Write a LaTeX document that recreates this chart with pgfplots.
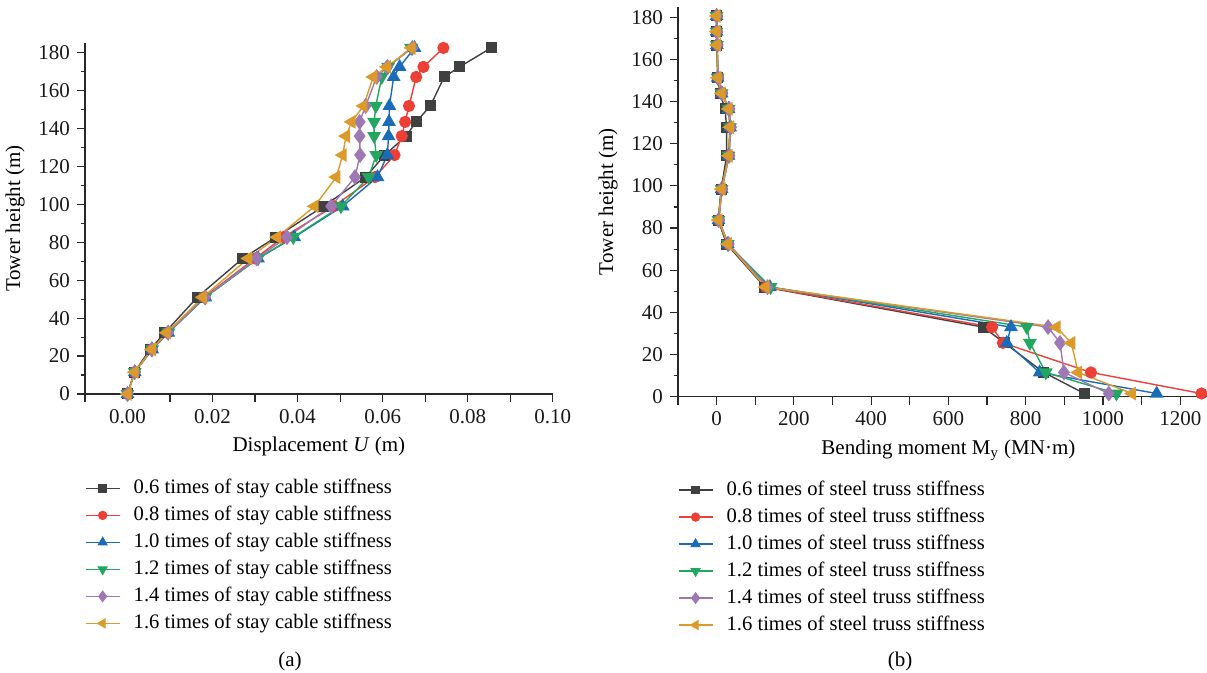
\documentclass[border=0pt]{standalone}
\usepackage{fontspec}
\setmainfont{Liberation Serif}
\usepackage{pgfplots}
\pgfplotsset{compat=1.18}

\definecolor{cK}{RGB}{64,64,64}
\definecolor{cR}{RGB}{236,64,55}
\definecolor{cB}{RGB}{26,108,184}
\definecolor{cG}{RGB}{34,166,96}
\definecolor{cP}{RGB}{157,120,180}
\definecolor{cO}{RGB}{219,154,42}
\definecolor{axc}{RGB}{40,40,40}

\pgfplotsset{
  myaxis/.style={
    scale only axis, axis lines=left,
    axis line style={-, color=axc, line width=0.6pt},
    tick align=outside, tick style={color=axc, line width=0.6pt},
    major tick length=4pt, minor tick length=2.2pt,
    ymin=0, ymax=185, ytick={0,20,...,180}, minor y tick num=1,
    font=\fontsize{10}{12}\selectfont,
    tick label style={font=\fontsize{10.5}{12}\selectfont, color=black!90},
    label style={font=\fontsize{10.5}{12}\selectfont},
    /pgf/number format/assume math mode=true,
    ylabel={Tower height (m)},
    every axis plot/.append style={line width=0.7pt},
    legend cell align=left,
    legend image post style={/tikz/every mark/.append style={scale=0.75}, line width=0.6pt},
    legend style={draw=none, fill=none, at={(0,0)}, anchor=north west,
      inner sep=0pt, outer sep=0pt, row sep=3.5pt,
      font=\fontsize{10.3}{12}\selectfont,
      nodes={inner sep=0pt, text height=7.5pt, text depth=2.5pt},
      /tikz/every odd column/.append style={column sep=6.7pt}},
  },
  sK/.style={color=cK, mark=square*, mark size=2.4pt},
  sR/.style={color=cR, mark=*, mark size=2.7pt},
  sB/.style={color=cB, mark=triangle*, mark size=3.3pt},
  sG/.style={color=cG, mark=triangle*, mark size=3.3pt, mark options={rotate=180}},
  sP/.style={color=cP, mark=diamond*, mark size=3.4pt},
  sO/.style={color=cO, mark=triangle*, mark size=3.3pt, mark options={rotate=90}},
}

\begin{document}
\begin{tikzpicture}
\path[use as bounding box] (0,0) rectangle (603.5pt,336.5pt);

% ---------------- (a) ----------------
\begin{axis}[myaxis,
  at={(42.5pt,139.5pt)}, anchor=south west,
  width=233.85pt, height=175.4pt,
  xmin=-0.01, xmax=0.10,
  xtick={-0.01,0,0.01,0.02,0.03,0.04,0.05,0.06,0.07,0.08,0.09,0.10},
  xticklabels={,0.00,,0.02,,0.04,,0.06,,0.08,,0.10},
  xlabel={Displacement \textit{U} (m)},
  legend style={yshift=-42.2pt},
]
\addplot[sK] coordinates {(0,0) (0.0016,11.5) (0.0053,23.5) (0.0088,32.3) (0.0164,51) (0.0271,71.5) (0.0349,82.7) (0.0461,99) (0.0560,114.4) (0.0605,126) (0.0655,136) (0.0679,143.5) (0.0712,151.9) (0.0745,167.2) (0.0781,172.5) (0.0855,182.5)};
\addplot[sR] coordinates {(0,0) (0.0017,11.5) (0.0057,23.5) (0.0094,32.3) (0.0180,51) (0.0300,71.5) (0.0367,82.7) (0.0485,99) (0.0582,114.4) (0.0628,126) (0.0645,136) (0.0653,143.5) (0.0662,151.9) (0.0679,167.2) (0.0696,172.5) (0.0743,182.5)};
\addplot[sB] coordinates {(0,0) (0.0017,11.5) (0.0058,23.5) (0.0096,32.3) (0.0183,51) (0.0307,71.5) (0.0392,82.7) (0.0506,99) (0.0588,114.4) (0.0611,126) (0.0614,136) (0.0615,143.5) (0.0616,151.9) (0.0626,167.2) (0.0640,172.5) (0.0675,182.5)};
\addplot[sG] coordinates {(0,0) (0.0017,11.5) (0.0058,23.5) (0.0096,32.3) (0.0183,51) (0.0307,71.5) (0.0390,82.7) (0.0502,99) (0.0567,114.4) (0.0585,126) (0.0580,136) (0.0580,143.5) (0.0584,151.9) (0.0598,167.2) (0.0613,172.5) (0.0667,182.5)};
\addplot[sP] coordinates {(0,0) (0.0017,11.5) (0.0057,23.5) (0.0095,32.3) (0.0182,51) (0.0304,71.5) (0.0375,82.7) (0.0479,99) (0.0535,114.4) (0.0547,126) (0.0546,136) (0.0546,143.5) (0.0560,151.9) (0.0586,167.2) (0.0611,172.5) (0.0670,182.5)};
\addplot[sO] coordinates {(0,0) (0.0017,11.5) (0.0057,23.5) (0.0092,32.3) (0.0177,51) (0.0284,71.5) (0.0352,82.7) (0.0440,99) (0.0491,114.4) (0.0506,126) (0.0514,136) (0.0527,143.5) (0.0555,151.9) (0.0578,167.2) (0.0610,172.5) (0.0668,182.5)};
\legend{0.6 times of stay cable stiffness, 0.8 times of stay cable stiffness, 1.0 times of stay cable stiffness, 1.2 times of stay cable stiffness, 1.4 times of stay cable stiffness, 1.6 times of stay cable stiffness}
\end{axis}

% ---------------- (b) ----------------
\begin{axis}[myaxis,
  at={(338.95pt,138.15pt)}, anchor=south west,
  width=270.5pt, height=195pt,
  xmin=-100, xmax=1300,
  xtick={-100,0,100,200,300,400,500,600,700,800,900,1000,1100,1200,1300},
  xticklabels={,0,,200,,400,,600,,800,,1000,,1200,},
  xlabel={Bending moment M\textsubscript{y} (MN·m)},
  legend style={yshift=-41.7pt},
  clip=false,
]
\addplot[sK] coordinates {(0,180.6) (0,173.2) (1,166.8) (3,151.3) (9,143.9) (22,136.5) (26,127.8) (26,114.3) (12,98.5) (4,83.8) (26,72.4) (125,52) (690,33) (745,25.5) (847,11.5) (952,1.5)};
\addplot[sR] coordinates {(1,180.6) (1,173.2) (2,166.8) (4,151.3) (14,143.9) (32,136.5) (36,127.8) (32,114.3) (14,98.5) (6,83.8) (30,72.4) (128,52) (713,33) (741,25.5) (969,11.5) (1255,1.5)};
\addplot[sB] coordinates {(0,180.6) (0,173.2) (1,166.8) (3,151.3) (13,143.9) (31,136.5) (35,127.8) (31,114.3) (13,98.5) (5,83.8) (29,72.4) (138,52) (762,33) (751,25.5) (836,11.5) (1139,1.5)};
\addplot[sG] coordinates {(0,180.6) (0,173.2) (1,166.8) (3,151.3) (13,143.9) (31,136.5) (35,127.8) (31,114.3) (13,98.5) (5,83.8) (29,72.4) (140,52) (803,33) (811,25.5) (852,11.5) (1035,1.5)};
\addplot[sP] coordinates {(1,180.6) (1,173.2) (2,166.8) (4,151.3) (14,143.9) (33,136.5) (37,127.8) (33,114.3) (14,98.5) (6,83.8) (31,72.4) (132,52) (858,33) (889,25.5) (899,11.5) (1015,1.5)};
\addplot[sO] coordinates {(0,180.6) (0,173.2) (1,166.8) (3,151.3) (13,143.9) (31,136.5) (35,127.8) (31,114.3) (13,98.5) (5,83.8) (29,72.4) (127,52) (880,33) (918,25.5) (936,11.5) (1075,1.5)};
\legend{0.6 times of steel truss stiffness, 0.8 times of steel truss stiffness, 1.0 times of steel truss stiffness, 1.2 times of steel truss stiffness, 1.4 times of steel truss stiffness, 1.6 times of steel truss stiffness}
\end{axis}

\node[font=\fontsize{10.5}{12}\selectfont] at (145pt,5.6pt) {(a)};
\node[font=\fontsize{10.5}{12}\selectfont] at (450pt,5.6pt) {(b)};
\end{tikzpicture}
\end{document}
